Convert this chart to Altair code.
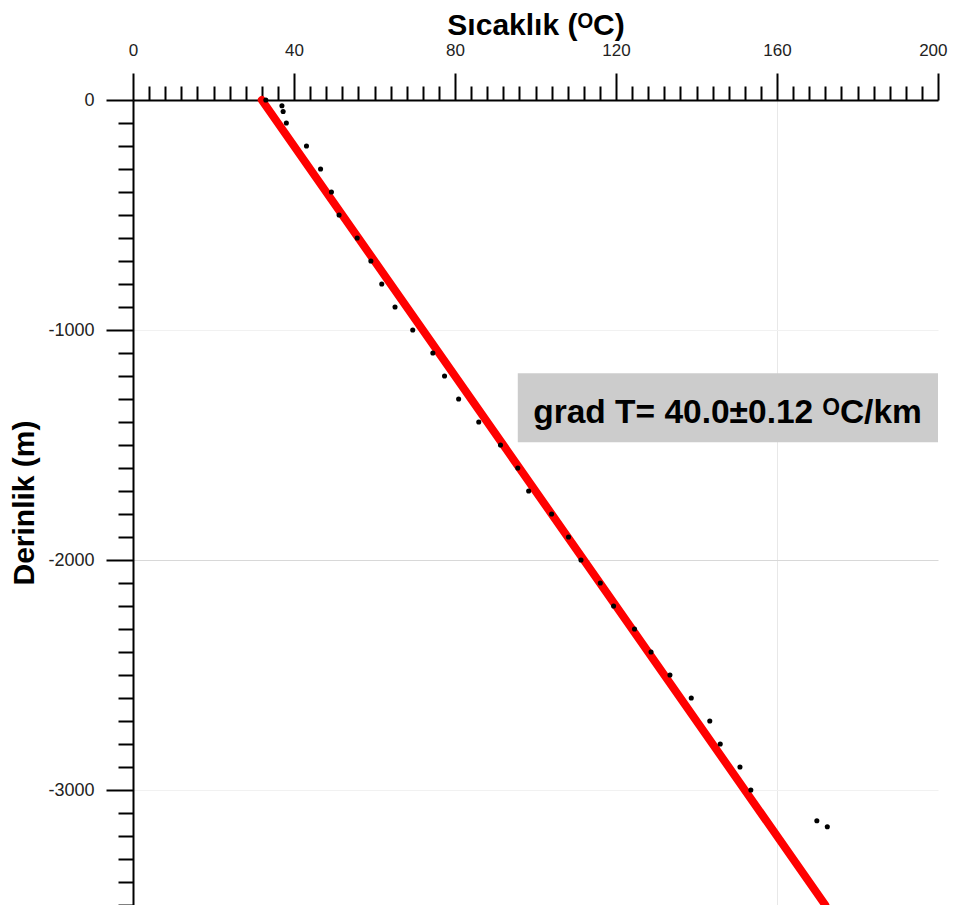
import altair as alt
import pandas as pd

# ---- data ----
depth_m = [0, -25, -50, -100, -200, -300, -400, -500, -600, -700, -800, -900,
           -1000, -1100, -1200, -1300, -1400, -1500, -1600, -1700, -1800, -1900,
           -2000, -2100, -2200, -2300, -2400, -2500, -2600, -2700, -2800, -2900,
           -3000, -3134, -3160]
temp_c = [33.0, 37.0, 37.3, 38.1, 43.1, 46.6, 49.3, 51.2, 55.7, 59.1, 61.8, 65.1,
          69.5, 74.5, 77.4, 80.9, 85.9, 91.3, 95.6, 98.3, 104.0, 108.2,
          111.3, 116.1, 119.4, 124.6, 128.7, 133.4, 138.7, 143.3, 145.9, 150.8,
          153.5, 169.9, 172.5]

fit_temp = [32, 172]
fit_depth = [0, -3500]

x_ticks = list(range(0, 201, 4))
y_ticks = list(range(-3500, 1, 100))

x_title = "Sıcaklık (ᴼC)"
y_title = "Derinlik (m)"
annot_text = "grad T= 40.0±0.12 ᴼC/km"

FONT = "Liberation Sans"

pts = pd.DataFrame({"T": temp_c, "D": depth_m})
fit = pd.DataFrame({"T": fit_temp, "D": fit_depth})
one = pd.DataFrame({"a": [0]})

xscale = alt.Scale(domain=[0, 200], nice=False, zero=False)
yscale = alt.Scale(domain=[-3500, 0], nice=False, zero=False)

x_axis = alt.Axis(
    orient="top", values=x_ticks, tickCount=500, title=x_title,
    labelExpr="datum.value % 40 === 0 ? '' + datum.value : ''",
    labelOverlap=False, labelFlush=False, labelFont=FONT, labelFontSize=17,
    labelColor="#222222", labelPadding=14,
    labelAlign={"condition": {"test": "datum.value === 200", "value": "right"}, "value": "center"},
    labelOffset={"condition": {"test": "datum.value === 200", "value": 9}, "value": 0},
    tickSize={"condition": {"test": "datum.value % 40 === 0", "value": 27}, "value": 14},
    tickWidth=2, tickColor="black", domainWidth=2, domainColor="black",
    grid=True,
    gridOpacity={"condition": {"test": "datum.value === 160", "value": 1}, "value": 0},
    gridColor="#e8e8e8",
    titleFont=FONT, titleFontSize=30, titleFontWeight="bold", titleColor="black",
    titlePadding=1,
)

y_axis = alt.Axis(
    orient="left", values=y_ticks, tickCount=500, title=y_title,
    labelExpr="datum.value % 1000 === 0 ? '' + datum.value : ''",
    labelOverlap=False, labelFlush=False, labelFont=FONT, labelFontSize=18,
    labelColor="#222222", labelPadding=12,
    tickSize={"condition": {"test": "datum.value % 1000 === 0", "value": 27}, "value": 15},
    tickWidth=2, tickColor="black", domainWidth=2, domainColor="black",
    grid=True,
    gridOpacity={"condition": {"test": "datum.value % 1000 === 0 || datum.value === -3500", "value": 1}, "value": 0},
    gridColor={"condition": [
        {"test": "datum.value === -2000", "value": "#d8d8d8"},
        {"test": "datum.value === -3500", "value": "#cccccc"},
    ], "value": "#f1f1f1"},
    titleFont=FONT, titleFontSize=30, titleFontWeight="bold", titleColor="black",
    titlePadding=8,
)

box = alt.Chart(one).mark_rect(color="#cccccc").encode(
    x=alt.X(datum=95.6, scale=xscale, axis=x_axis),
    x2=alt.datum(200),
    y=alt.Y(datum=-1188, scale=yscale, axis=y_axis),
    y2=alt.datum(-1488),
)

label = alt.Chart(one).mark_text(
    text=annot_text, font=FONT, fontSize=33.5, fontWeight="bold", color="black",
    align="center", baseline="alphabetic",
).encode(
    x=alt.datum(147.7),
    y=alt.datum(-1404),
)

line = alt.Chart(fit).mark_line(color="#ff0000", strokeWidth=8, strokeCap="round").encode(
    x=alt.X("T:Q", scale=xscale),
    y=alt.Y("D:Q", scale=yscale),
)

dots = alt.Chart(pts).mark_circle(color="black", size=26, opacity=1).encode(
    x=alt.X("T:Q", scale=xscale),
    y=alt.Y("D:Q", scale=yscale),
)

chart = alt.layer(box, label, line, dots).properties(
    width=805, height=805,
    padding={"left": 125, "top": 92, "right": 10, "bottom": 0},
    autosize=alt.AutoSizeParams(type="none"),
    background="white",
).configure_view(strokeWidth=0)

chart.save("out.html", embed_options={"renderer": "svg", "actions": False})
